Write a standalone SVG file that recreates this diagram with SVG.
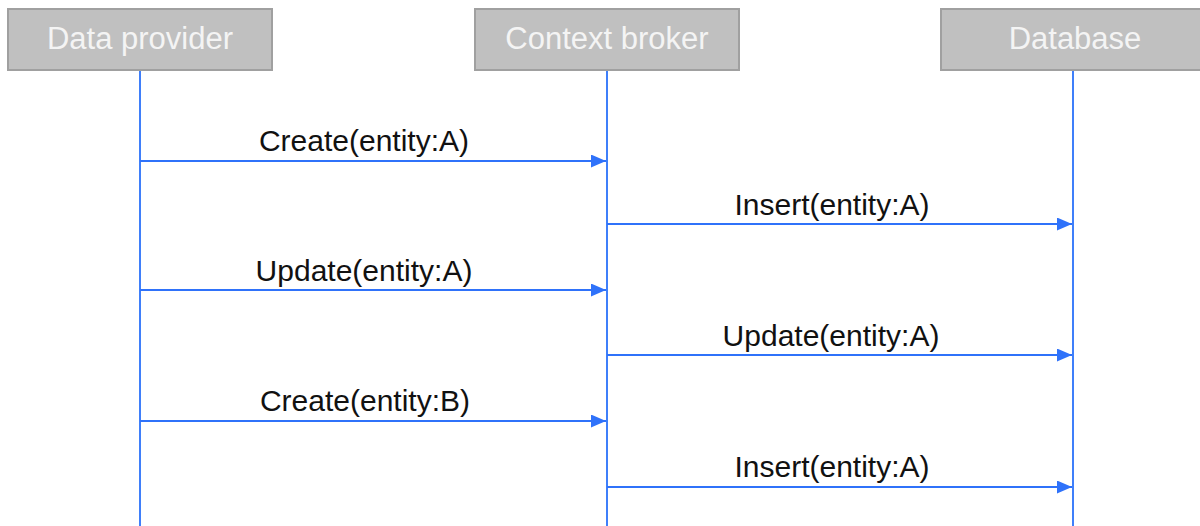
<svg xmlns="http://www.w3.org/2000/svg" width="1200" height="526" viewBox="0 0 1200 526">
  <style>
    .box { fill: #c0c0c0; stroke: #a0a0a0; stroke-width: 2; }
    .title { font-family: "Liberation Sans", Arial, sans-serif; font-size: 31px; fill: #f4f4f4; text-anchor: middle; }
    .life { stroke: #3f7ffa; stroke-width: 2; fill: none; }
    .msg { stroke: #2f72fa; stroke-width: 2; fill: none; marker-end: url(#head); }
    .label { font-family: "Liberation Sans", Arial, sans-serif; font-size: 30px; fill: #111111; text-anchor: middle; }
  </style>
  <defs>
    <marker id="head" viewBox="0 0 15 13" refX="15" refY="6.5" markerWidth="15" markerHeight="13" markerUnits="userSpaceOnUse" orient="auto">
      <path d="M0,0 L15,6.5 L0,13 Z" fill="#2f72fa"/>
    </marker>
  </defs>
  <rect width="1200" height="526" fill="#ffffff"/>

  <!-- lifelines -->
  <g id="lifelines">
    <line class="life" x1="140" y1="70" x2="140" y2="526"/>
    <line class="life" x1="607" y1="70" x2="607" y2="526"/>
    <line class="life" x1="1073" y1="70" x2="1073" y2="526"/>
  </g>

  <!-- participants -->
  <g id="data-provider">
    <rect class="box" x="8" y="9" width="264" height="61"/>
    <text class="title" x="140" y="49">Data provider</text>
  </g>
  <g id="context-broker">
    <rect class="box" x="475" y="9" width="264" height="61"/>
    <text class="title" x="607" y="49">Context broker</text>
  </g>
  <g id="database">
    <rect class="box" x="941" y="9" width="264" height="61"/>
    <text class="title" x="1075" y="49">Database</text>
  </g>

  <!-- messages -->
  <g id="connectors">
    <line class="msg" x1="140" y1="161" x2="606" y2="161"/>
    <line class="msg" x1="607" y1="224" x2="1072" y2="224"/>
    <line class="msg" x1="140" y1="290" x2="606" y2="290"/>
    <line class="msg" x1="607" y1="355" x2="1072" y2="355"/>
    <line class="msg" x1="140" y1="421" x2="606" y2="421"/>
    <line class="msg" x1="607" y1="487" x2="1072" y2="487"/>
  </g>

  <g id="labels">
    <text class="label" x="364" y="151">Create(entity:A)</text>
    <text class="label" x="832" y="215">Insert(entity:A)</text>
    <text class="label" x="364" y="281">Update(entity:A)</text>
    <text class="label" x="831" y="346">Update(entity:A)</text>
    <text class="label" x="365" y="411">Create(entity:B)</text>
    <text class="label" x="832" y="477">Insert(entity:A)</text>
  </g>
</svg>
